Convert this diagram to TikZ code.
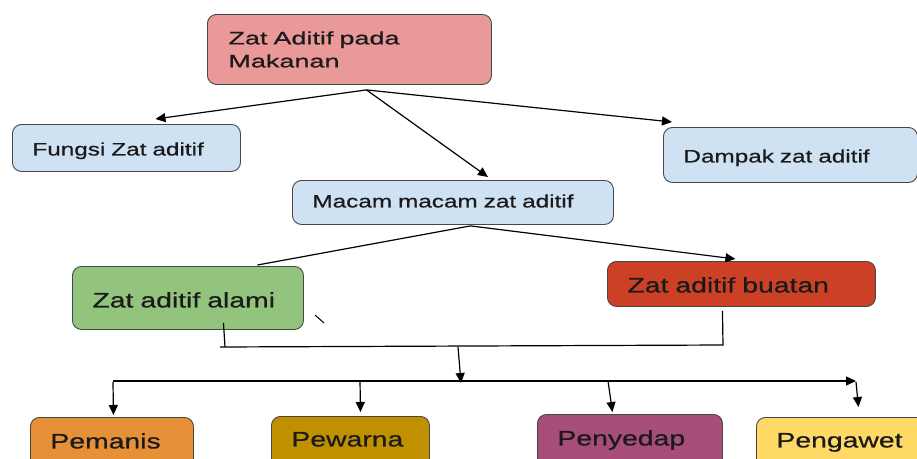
\documentclass[tikz,border=0pt]{standalone}
\usepackage{fontspec}
\setmainfont[FakeStretch=1.35,FakeBold=0.6]{Liberation Sans}
\newfontfamily\topfont[FakeStretch=1.5,FakeBold=0.8]{Liberation Sans}
\usetikzlibrary{arrows.meta}
\definecolor{cpink}{HTML}{EA9999}
\definecolor{cblue}{HTML}{CFE2F3}
\definecolor{cgreen}{HTML}{93C47D}
\definecolor{cred}{HTML}{CC4125}
\definecolor{corange}{HTML}{E69138}
\definecolor{cgold}{HTML}{BF9000}
\definecolor{cpurple}{HTML}{A64D79}
\definecolor{cyellow}{HTML}{FFD966}
\definecolor{ctext}{HTML}{1A1A1A}
\tikzset{
  boxnode/.style={draw=black!72, line width=0.9pt, rounded corners=9pt, anchor=north west,
    inner xsep=20pt, inner ysep=0pt, align=left, text=ctext},
  midfont/.style={font=\fontsize{18}{22}\selectfont},
  bigfont/.style={font=\fontsize{21}{25}\selectfont},
  conn/.style={draw=black, line width=1.2pt},
  arr/.style={conn, -{Triangle[length=10pt,width=9pt]}},
}
\begin{document}
\begin{tikzpicture}[x=1pt,y=-1pt]
\useasboundingbox (0,0) rectangle (917,458);
\clip (0,0) rectangle (917,458);
\fill[white] (0,0) rectangle (917,458);

% boxes
\node[boxnode, fill=cpink, text width=242pt, inner xsep=21pt, minimum height=70pt,
  font=\topfont\fontsize{18}{23}\selectfont] (top) at (207,14) {Zat Aditif pada\\Makanan};
\node[boxnode, midfont, fill=cblue, text width=188pt, text height=31pt, text depth=16pt] (fungsi) at (12,124) {Fungsi Zat aditif};
\node[boxnode, midfont, fill=cblue, text width=214pt, text height=35pt, text depth=20pt] (dampak) at (663,127) {Dampak zat aditif};
\node[boxnode, midfont, fill=cblue, text width=281pt, text height=27pt, text depth=17pt] (macam) at (292,180) {Macam macam zat aditif};
\node[boxnode, bigfont, fill=cgreen, text width=191pt, text height=41pt, text depth=22pt] (alami) at (72,266) {Zat aditif alami};
\node[boxnode, bigfont, fill=cred, text width=228pt, text height=31pt, text depth=14pt] (buatan) at (607,261) {Zat aditif buatan};
\node[boxnode, bigfont, fill=corange, text width=123pt, text height=31pt, text depth=30pt] (pemanis) at (30,417) {Pemanis};
\node[boxnode, bigfont, fill=cgold, text width=118pt, text height=30pt, text depth=30pt] (pewarna) at (271,416) {Pewarna};
\node[boxnode, bigfont, fill=cpurple, text width=145pt, text height=31pt, text depth=30pt] (penyedap) at (537,414) {Penyedap};
\node[boxnode, bigfont, fill=cyellow, text width=135pt, text height=30pt, text depth=30pt] (pengawet) at (756,417) {Pengawet};

% top connectors
\coordinate (tp) at ([xshift=17pt,yshift=-5pt]top.south);
\draw[arr] (tp) -- ([xshift=29pt,yshift=5pt]fungsi.north);
\draw[arr] (tp) -- ([xshift=35pt,yshift=3pt]macam.north);
\draw[arr] (tp) -- ([xshift=9pt,yshift=5pt]dampak.north west);

% macam connectors
\coordinate (mp) at ([xshift=17.5pt,yshift=-1pt]macam.south);
\draw[conn] (mp) -- ([xshift=69.5pt,yshift=1pt]alami.north);
\draw[arr] (mp) -- ([xshift=-6pt,yshift=2pt]buatan.north);

% stray tick
\draw[line width=1pt] (315,315) -- (324,323);

% joining lines
\coordinate (a1) at ([xshift=35.5pt,yshift=7pt]alami.south);
\coordinate (a2) at (225,347);
\coordinate (jl) at (220,347);
\coordinate (jr) at (723,345);
\coordinate (b1) at ([xshift=-19pt,yshift=-4pt]buatan.south);
\draw[conn] (a1) -- (a2);
\draw[conn] (jl) -- (jr) -- (b1);

\coordinate (d0) at (458,347);
\coordinate (d1) at (461,383);
\draw[arr] (d0) -- (d1);

% bus
\coordinate (busl) at (113,381);
\coordinate (busr) at (856,381);
\draw[arr] (busl) -- (busr);

\draw[arr] (113,382) -- ([xshift=1.5pt,yshift=2pt]pemanis.north);
\draw[arr] (360,380) -- ([xshift=10pt,yshift=4pt]pewarna.north);
\draw[arr] (608,381) -- ([xshift=-17.5pt,yshift=2pt]penyedap.north);
\draw[arr] (856,382) -- ([xshift=14.5pt,yshift=10pt]pengawet.north);
\end{tikzpicture}
\end{document}
